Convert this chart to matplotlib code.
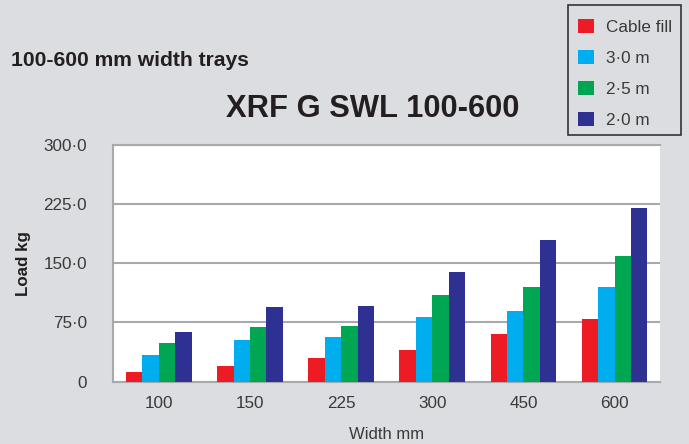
import numpy as np
import matplotlib
matplotlib.use('Agg')
import matplotlib.pyplot as plt
from matplotlib.patches import Rectangle

plt.rcParams['font.family'] = ['Liberation Sans', 'DejaVu Sans']

widths = ['100', '150', '225', '300', '450', '600']
series = ['Cable fill', '3·0 m', '2·5 m', '2·0 m']
cable_fill = [12.5, 20, 30, 40, 60, 80]
span_3_0 = [34, 53, 57, 82, 90, 120]
span_2_5 = [49, 69, 71, 110, 120, 159]
span_2_0 = [63, 95, 96, 139, 180, 220]
colors = ['#ed1c24', '#00aeef', '#00a651', '#2e3192']
yticks = [0, 75, 150, 225, 300]
ytick_labels = ['0', '75·0', '150·0', '225·0', '300·0']

bg = '#dcdde0'
grid_c = '#a7a9ac'
txt = '#3a3a3a'
W, H = 689, 444

fig = plt.figure(figsize=(6.89, 4.44), dpi=100, facecolor=bg)
ax = fig.add_axes([0.1645, 0.1403, 0.958 - 0.1645, 0.674 - 0.1403])
ax.set_facecolor('white')

x = np.arange(len(widths))
bw = 0.18
for i, (vals, c, name) in enumerate(zip([cable_fill, span_3_0, span_2_5, span_2_0],
                                         colors, series)):
    ax.bar(x + (i - 1.5) * bw, vals, bw, color=c, label=name, zorder=3)

ax.set_xlim(-0.5, len(widths) - 0.5)
ax.set_ylim(0, 300)
ax.set_yticks(yticks)
ax.set_yticklabels(ytick_labels)
ax.set_xticks(x)
ax.set_xticklabels(widths)
ax.yaxis.grid(True, color=grid_c, linewidth=1.5, zorder=1)
ax.set_axisbelow(True)
ax.tick_params(axis='both', length=0, labelsize=12.3, labelcolor=txt)
ax.tick_params(axis='y', pad=19)
ax.tick_params(axis='x', pad=10)
for s in ['left', 'bottom', 'top']:
    ax.spines[s].set_color(grid_c)
    ax.spines[s].set_linewidth(1.5)
ax.spines['right'].set_visible(False)

ax.set_ylabel('Load kg', fontsize=12.2, fontweight='bold', color='#231f20')
ax.yaxis.set_label_coords(-0.15, 0.5)
ax.set_xlabel('Width mm', fontsize=12, color=txt, labelpad=12)

fig.text(11 / W, 1 - 66 / H, '100-600 mm width trays', fontsize=15.2,
         fontweight='bold', color='#231f20', va='baseline', ha='left')
fig.text(372.5 / W, 1 - 117 / H, 'XRF G SWL 100-600', fontsize=22.2,
         fontweight='bold', color='#231f20', va='baseline', ha='center')

# legend box drawn separately so the entries can sit a bit lower inside it
fig.add_artist(Rectangle((568.3 / W, 1 - 134.5 / H), (681 - 568.3) / W,
                         (134.5 - 5.3) / H, transform=fig.transFigure,
                         facecolor='none', edgecolor='#333333', linewidth=1.2))
leg = fig.legend(loc='upper left', bbox_to_anchor=(568 / W, 1 - 9 / H),
                 fontsize=12.3, frameon=False, handlelength=0.9,
                 handleheight=0.9, labelspacing=0.87, handletextpad=0.7,
                 borderpad=0.6, borderaxespad=0)
for t in leg.get_texts():
    t.set_color(txt)

fig.savefig('out.png', dpi=100, facecolor=bg)
